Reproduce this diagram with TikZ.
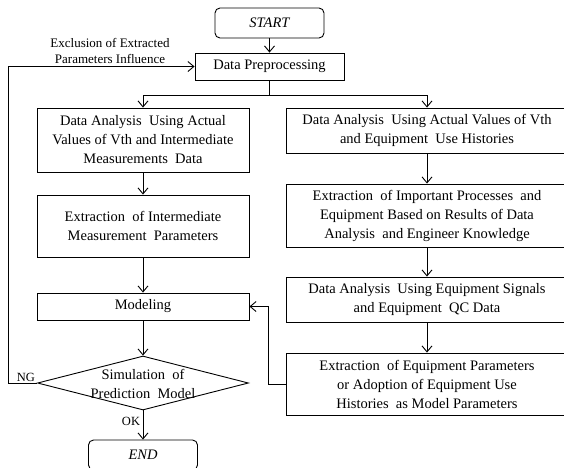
\documentclass[tikz,border=0pt]{standalone}
\usepackage{fontspec}
\setmainfont{Liberation Serif}
\usetikzlibrary{arrows.meta,shapes.geometric}

\begin{document}
\begin{tikzpicture}[x=1pt,y=-1pt,
    line width=0.9pt,
    arr/.style={-{Straight Barb[length=6pt,width=10pt]}},
    stepbox/.style={draw,rectangle,inner sep=0pt,align=center,
        font=\fontsize{14.5}{19}\selectfont},
    termbox/.style={draw,rectangle,rounded corners=5pt,inner sep=0pt,
        minimum width=109pt,font=\fontsize{14.5}{19}\selectfont\itshape},
    decision/.style={draw,diamond,inner sep=0pt,minimum width=211pt,
        minimum height=54pt},
    note/.style={inner sep=0pt,align=center,font=\fontsize{13}{16}\selectfont}]

    \useasboundingbox (0,0) rectangle (564,467);

    % Draw the start and the preprocessing step
    \node[termbox,minimum height=30pt] (start) at (269.5,23) {START};
    \node[stepbox,minimum width=149pt,minimum height=27pt] (prep) at (269.5,66.5) {Data Preprocessing};

    % Draw the left column
    \node[stepbox,minimum width=212pt,minimum height=64pt] (la) at (143,140)
        {Data Analysis \ Using Actual\\Values of Vth and Intermediate\\Measurements \ Data};
    \node[stepbox,minimum width=212pt,minimum height=62pt] (lb) at (143,226)
        {Extraction \ of Intermediate\\Measurement \ Parameters};
    \node[stepbox,minimum width=212pt,minimum height=27pt] (model) at (143,306.5) {Modeling};
    \node[decision] (sim) at (143,383) {};
    \node[stepbox,draw=none] (simtext) at (143,384) {Simulation \ of\\Prediction \ Model};
    \node[termbox,minimum height=30pt] (endn) at (143,455) {END};

    % Draw the right column
    \node[stepbox,minimum width=282pt,minimum height=45pt] (ra) at (427,130.5)
        {Data Analysis \ Using Actual Values of Vth\\and Equipment \ Use Histories};
    \node[stepbox,minimum width=282pt,minimum height=63pt] (rb) at (427,215.5)
        {Extraction \ of Important Processes \ and\\Equipment Based on Results of Data\\Analysis \ and Engineer Knowledge};
    \node[stepbox,minimum width=282pt,minimum height=45pt] (rc) at (427,299.5)
        {Data Analysis \ Using Equipment Signals\\and Equipment \ QC Data};
    \node[stepbox,minimum width=282pt,minimum height=62pt] (rd) at (427,384)
        {Extraction \ of Equipment Parameters\\or Adoption of Equipment Use\\Histories \ as Model Parameters};

    % Draw the arrows down the middle and the fork
    \coordinate (fork) at (269.5,95);
    \draw[arr] (start) -- (prep);
    \draw (prep.south) -- (fork);
    \draw[arr] (fork) -| (la.north);
    \draw[arr] (fork) -| (ra.north);

    % Draw the arrows in the left column
    \draw[arr] (la) -- (lb);
    \draw[arr] (lb) -- (model);
    \draw[arr] (model) -- (sim.north);
    \draw[arr] (sim.south) -- (endn.north);

    % Draw the arrows in the right column
    \draw[arr] (ra) -- (rb);
    \draw[arr] (rb) -- (rc);
    \draw[arr] (rc) -- (rd);

    % Draw the feedback loop and the feed into modeling
    \coordinate (loop) at (8,383);
    \coordinate (feed) at (268,384);
    \draw[arr] (sim.west) -- (loop) |- (prep.west);
    \draw[arr] (rd.west) -- (feed) |- (model.east);

    % Label the loop and the decision
    \node[note] (excl) at (110,51) {Exclusion of Extracted\\Parameters Influence};
    \node[note,font=\fontsize{12.5}{15}\selectfont] (ng) at (26,377) {NG};
    \node[note,font=\fontsize{12.5}{15}\selectfont] (ok) at (131,421) {OK};

\end{tikzpicture}
\end{document}
